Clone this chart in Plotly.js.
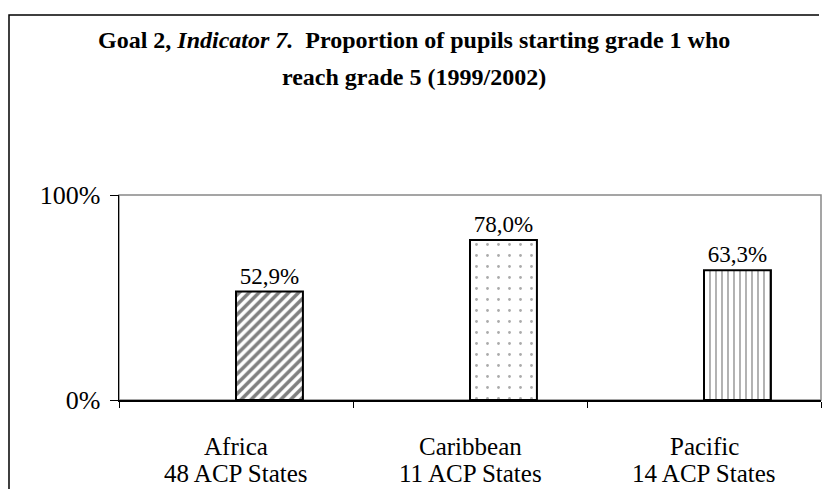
<!DOCTYPE html>
<html>
<head>
<meta charset="utf-8">
<script src="https://cdn.plot.ly/plotly-3.0.1.min.js"></script>
<style>html,body{margin:0;padding:0;background:#fff;}#chart{width:824px;height:489px;}</style>
</head>
<body>
<div id="chart"></div>
<script>
// Data
const regions = ["Africa", "Caribbean", "Pacific"];
const stateCounts = ["48 ACP States", "11 ACP States", "14 ACP States"];
const proportion = [0.529, 0.780, 0.633];
const yTickVals = [0, 1];
const titleLines = [
  "<b>Goal 2, <i>Indicator 7.</i>  Proportion of pupils starting grade 1 who</b>",
  "<b>reach grade 5 (1999/2002)</b>"
];

const serif = "Liberation Serif, Times New Roman, serif";

const trace = {
  type: "bar",
  x: regions,
  y: proportion,
  offset: 0,
  width: 0.286,
  marker: {
    color: "#ffffff",
    line: {color: "#000000", width: 2},
    pattern: {
      shape: ["/", ".", "|"],
      fgcolor: ["#000000", "#555555", "#000000"],
      bgcolor: "#ffffff",
      size: [7, 11, 6],
      solidity: [0.5, 0.05, 0.2],
      fillmode: "overlay"
    }
  },
  texttemplate: "%{y:.1%}",
  textposition: "outside",
  textfont: {family: serif, size: 23, color: "#000000"},
  cliponaxis: false,
  hoverinfo: "skip"
};

const annotations = [];
titleLines.forEach((t, i) => {
  annotations.push({
    text: t, xref: "paper", yref: "paper",
    x: 0.42, y: [1.755, 1.575][i],
    xanchor: "center", yanchor: "middle", showarrow: false,
    font: {family: serif, size: 24, color: "#000000"}
  });
});
regions.forEach((r, i) => {
  annotations.push({
    text: r, xref: "x", yref: "paper", x: r, y: -0.225,
    xanchor: "center", yanchor: "middle", showarrow: false,
    font: {family: serif, size: 25, color: "#000000"}
  });
  annotations.push({
    text: stateCounts[i], xref: "x", yref: "paper", x: r, y: -0.357,
    xanchor: "center", yanchor: "middle", showarrow: false,
    font: {family: serif, size: 25, color: "#000000"}
  });
});

const layout = {
  width: 824,
  height: 489,
  margin: {l: 119, r: 3, t: 195, b: 89, pad: 0},
  paper_bgcolor: "#ffffff",
  plot_bgcolor: "#ffffff",
  separators: ", ",
  showlegend: false,
  font: {family: serif, color: "#000000"},
  xaxis: {
    type: "category",
    showline: true,
    linecolor: "#000000",
    linewidth: 1.5,
    ticks: "outside",
    tickson: "boundaries",
    ticklen: 6,
    tickcolor: "#000000",
    tickwidth: 1,
    showgrid: false,
    showticklabels: false,
    fixedrange: true
  },
  yaxis: {
    range: [0, 1],
    tickvals: yTickVals,
    tickformat: ".0%",
    showline: true,
    linecolor: "#000000",
    linewidth: 1.5,
    ticks: "outside",
    ticklen: 8,
    tickcolor: "#000000",
    tickwidth: 1,
    showgrid: false,
    zeroline: false,
    tickfont: {family: serif, size: 26, color: "#000000"},
    ticklabelstandoff: 4,
    fixedrange: true
  },
  annotations: annotations,
  shapes: [
    {type: "rect", xref: "paper", yref: "paper", x0: 0, x1: 1, y0: 0, y1: 1,
     line: {color: "#888888", width: 1.5}, layer: "below"},
    {type: "path", xref: "paper", yref: "paper",
     path: "M -0.1567,-0.6 L -0.1567,1.878 L 0.9972,1.878",
     line: {color: "#000000", width: 1.5}, layer: "above"}
  ]
};

Plotly.newPlot("chart", [trace], layout, {displayModeBar: false, staticPlot: true});
</script>
</body>
</html>
